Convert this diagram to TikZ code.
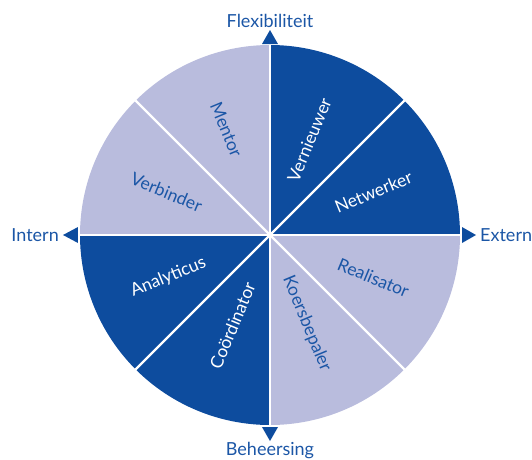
\documentclass[tikz,border=0pt]{standalone}
\usepackage{fontspec}
\setmainfont{Lato}
\usetikzlibrary{positioning}

\definecolor{darkblue}{HTML}{0D4C9E}
\definecolor{lightblue}{HTML}{B9BCDD}
\definecolor{textblue}{HTML}{1B56A6}

\tikzset{
  axislabel/.style={text=textblue, font=\fontsize{18}{21}\selectfont, inner sep=1pt},
  rolelabel/.style={font=\fontsize{17.5}{20}\selectfont, inner sep=0pt},
  tip/.style={fill=darkblue, draw=none}
}

\begin{document}
\begin{tikzpicture}[x=1pt, y=1pt]
    \useasboundingbox (-270,-224) rectangle (262,235);

    % wheel
    \foreach \a/\col in {45/darkblue, 0/darkblue, -45/lightblue, -90/lightblue,
                         -135/darkblue, 180/darkblue, 135/lightblue, 90/lightblue}
      \fill[\col] (0,0) -- (\a:190) arc (\a:\a+45:190) -- cycle;
    \foreach \a in {0,45,...,315}
      \draw[white, line width=2.4pt] (0,0) -- (\a:190.5);

    % roles
    \node[rolelabel, text=white, rotate=67.5] (vern) at (67.5:103) {Vernieuwer};
    \node[rolelabel, text=white, rotate=22.5] (netw) at (22.5:112) {Netwerker};
    \node[rolelabel, text=textblue, rotate=-22.5] (real) at (-22.5:112) {Realisator};
    \node[rolelabel, text=textblue, rotate=-67.5] (koers) at (-67.5:96) {Koersbepaler};
    \node[rolelabel, text=white, rotate=67.5] (coord) at (-112.5:98) {Coördinator};
    \node[rolelabel, text=white, rotate=22.5] (anal) at (-157.5:110) {Analyticus};
    \node[rolelabel, text=textblue, rotate=-22.5] (verb) at (157.5:112) {Verbinder};
    \node[rolelabel, text=textblue, rotate=-67.5] (ment) at (112.5:114) {Mentor};

    % axis tips
    \coordinate (top) at (0,205);
    \coordinate (left) at (-207,0);
    \coordinate (right) at (206,0);
    \coordinate (bottom) at (0,-206);
    \fill[tip] (top) -- (-8,191) -- (8,191) -- cycle;
    \fill[tip] (left) -- (-192,8) -- (-192,-8) -- cycle;
    \fill[tip] (right) -- (192,8) -- (192,-8) -- cycle;
    \fill[tip] (bottom) -- (-8,-192) -- (8,-192) -- cycle;

    \node[axislabel, above=1pt of top] (flex) {Flexibiliteit};
    \node[axislabel, left=3pt of left] (intern) {Intern};
    \node[axislabel, right=3pt of right] (extern) {Extern};
    \node[axislabel, below=0pt of bottom] (beh) {Beheersing};
\end{tikzpicture}
\end{document}
